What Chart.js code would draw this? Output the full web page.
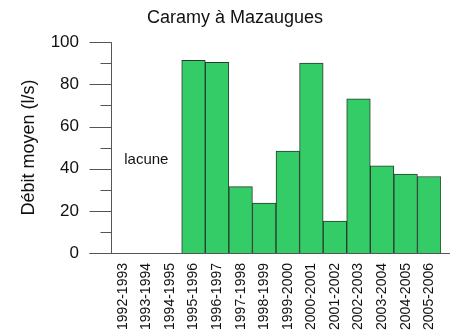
<!DOCTYPE html>
<html>
<head>
<meta charset="utf-8">
<script src="https://cdn.jsdelivr.net/npm/chart.js@4"></script>
<style>
  html, body { margin: 0; padding: 0; background: #fff; }
  #wrap { width: 450px; height: 335px; }
</style>
</head>
<body>
<div id="wrap"><canvas id="debit"></canvas></div>
<script>
const years = ['1992-1993', '1993-1994', '1994-1995', '1995-1996', '1996-1997', '1997-1998', '1998-1999',
  '1999-2000', '2000-2001', '2001-2002', '2002-2003', '2003-2004', '2004-2005', '2005-2006'];
const debit = [null, null, null, 91.4, 90.4, 31.5, 23.7, 48.3, 90.1, 15.1, 73.1, 41.4, 37.4, 36.3];
const majorTicks = [0, 20, 40, 60, 80, 100];
const minorTicks = [10, 30, 50, 70, 90];
const chartTitle = 'Caramy à Mazaugues';
const gapNote = 'lacune';
const gapNoteLevel = 44;

const axisColor = '#555';
const fontFamily = '"Liberation Sans", Arial, sans-serif';

// title, axis line, long/short tick marks, baseline and the "lacune" note
const axesPlugin = {
  id: 'axes',
  afterDraw(chart) {
    const { ctx, chartArea, scales } = chart;
    const y = scales.y, x = scales.x;
    const ax = Math.round(chartArea.left) + 0.5;
    ctx.save();
    ctx.strokeStyle = axisColor;
    ctx.lineWidth = 1;
    ctx.beginPath();
    ctx.moveTo(ax, y.getPixelForValue(100));
    ctx.lineTo(ax, y.getPixelForValue(0));
    majorTicks.forEach(v => {
      const py = Math.round(y.getPixelForValue(v)) + 0.5;
      ctx.moveTo(ax - 22, py);
      ctx.lineTo(ax, py);
    });
    minorTicks.forEach(v => {
      const py = Math.round(y.getPixelForValue(v)) + 0.5;
      ctx.moveTo(ax - 11, py);
      ctx.lineTo(ax, py);
    });
    const by = Math.round(y.getPixelForValue(0)) + 0.5;
    ctx.moveTo(ax - 22, by);
    ctx.lineTo(chart.width, by);
    ctx.stroke();

    ctx.fillStyle = '#111';
    ctx.textAlign = 'center';
    ctx.textBaseline = 'middle';
    ctx.font = '15px ' + fontFamily;
    ctx.fillText(gapNote, x.getPixelForValue(1), y.getPixelForValue(gapNoteLevel));
    ctx.font = '18px ' + fontFamily;
    ctx.fillText(chartTitle, 235, 18);
    ctx.restore();
  }
};

new Chart(document.getElementById('debit'), {
  type: 'bar',
  data: {
    labels: years,
    datasets: [{
      data: debit,
      backgroundColor: '#33cc66',
      borderColor: '#2a3a2e',
      borderWidth: 1,
      categoryPercentage: 1,
      barPercentage: 1
    }]
  },
  options: {
    responsive: true,
    maintainAspectRatio: false,
    animation: false,
    layout: { padding: { left: 0, right: 9, top: 41, bottom: 0 } },
    plugins: {
      legend: { display: false },
      tooltip: { enabled: false },
      title: { display: false }
    },
    scales: {
      x: {
        grid: { display: false, drawTicks: false },
        border: { display: false },
        ticks: {
          color: '#111',
          font: { family: fontFamily, size: 14 },
          minRotation: 90,
          maxRotation: 90,
          autoSkip: false,
          padding: 10
        },
        afterFit(s) {
          s.height = 82;
          s.paddingLeft = 0;
          s.paddingRight = 0;
        }
      },
      y: {
        min: 0,
        max: 100,
        grid: { display: false, drawTicks: false },
        border: { display: false },
        ticks: {
          stepSize: 20,
          color: '#111',
          font: { family: fontFamily, size: 17 },
          padding: 32
        },
        title: {
          display: true,
          text: 'Débit moyen (l/s)',
          color: '#111',
          font: { family: fontFamily, size: 18 },
          padding: { top: 18, bottom: 0 }
        },
        afterFit(s) { s.width = 111; }
      }
    }
  },
  plugins: [axesPlugin]
});
</script>
</body>
</html>
